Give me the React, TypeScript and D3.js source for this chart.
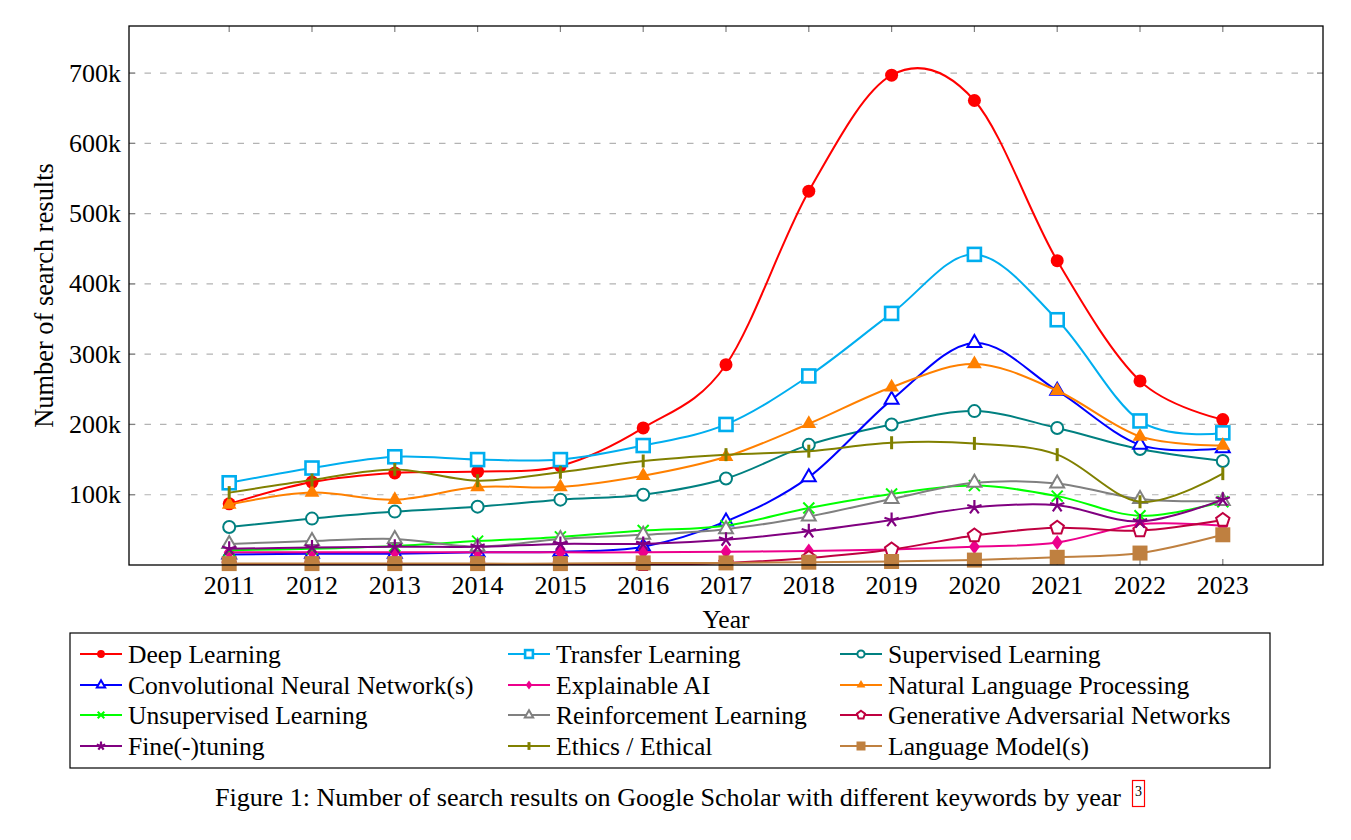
import React from 'react';
import * as d3 from 'd3';

const years = [2011, 2012, 2013, 2014, 2015, 2016, 2017, 2018, 2019, 2020, 2021, 2022, 2023];

const deepLearning = [87, 118, 131, 133, 141, 195, 285, 532, 697, 661, 433, 262, 207];
const transferLearning = [117, 138, 154, 150, 150, 170, 200, 269, 358, 442, 349, 205, 188];
const supervisedLearning = [54, 66, 76, 83, 93, 100, 123, 171, 200, 219, 195, 165, 148];
const cnn = [15, 16, 16, 18, 19, 26, 62, 125, 235, 316, 248, 171, 166];
const explainableAI = [18, 18, 18, 18, 18, 18, 19, 20, 22, 26, 32, 58, 56];
const nlp = [86, 103, 93, 111, 111, 127, 154, 201, 253, 286, 248, 183, 170];
const unsupervisedLearning = [21, 23, 27, 34, 40, 49, 56, 81, 101, 113, 98, 70, 90];
const reinforcementLearning = [30, 34, 37, 26, 37, 43, 51, 69, 94, 117, 116, 94, 91];
const gan = [1, 1, 1, 1, 1, 1, 3, 10, 22, 42, 53, 49, 64];
const fineTuning = [23, 25, 26, 26, 30, 30, 36, 48, 64, 82, 85, 62, 93];
const ethics = [103, 121, 136, 120, 132, 148, 157, 162, 174, 173, 157, 90, 130];
const languageModel = [2, 2, 2, 2, 2, 3, 3, 4, 5, 7, 11, 17, 43];

const seriesNames = [
  'Deep Learning', 'Transfer Learning', 'Supervised Learning',
  'Convolutional Neural Network(s)', 'Explainable AI', 'Natural Language Processing',
  'Unsupervised Learning', 'Reinforcement Learning', 'Generative Adversarial Networks',
  'Fine(-)tuning', 'Ethics / Ethical', 'Language Model(s)',
];
const seriesValues = [
  deepLearning, transferLearning, supervisedLearning,
  cnn, explainableAI, nlp,
  unsupervisedLearning, reinforcementLearning, gan,
  fineTuning, ethics, languageModel,
];
const yTicks = [100, 200, 300, 400, 500, 600, 700];

type MarkKind = 'circleF' | 'squareO' | 'circleO' | 'triO' | 'diamondF' | 'triF' | 'x' | 'pentO' | 'star' | 'bar' | 'squareF';
const styles: { color: string; mark: MarkKind }[] = [
  { color: '#ff0000', mark: 'circleF' },
  { color: '#00aeef', mark: 'squareO' },
  { color: '#008080', mark: 'circleO' },
  { color: '#0000ff', mark: 'triO' },
  { color: '#ec008c', mark: 'diamondF' },
  { color: '#ff8000', mark: 'triF' },
  { color: '#00ff00', mark: 'x' },
  { color: '#808080', mark: 'triO' },
  { color: '#bf0040', mark: 'pentO' },
  { color: '#800080', mark: 'star' },
  { color: '#808000', mark: 'bar' },
  { color: '#bf8040', mark: 'squareF' },
];

const FONT = '"Liberation Serif", "Times New Roman", serif';

function polyPts(n: number, r: number, rot = -Math.PI / 2) {
  const pts: string[] = [];
  for (let i = 0; i < n; i++) {
    const a = rot + (i * 2 * Math.PI) / n;
    pts.push(`${(r * Math.cos(a)).toFixed(2)},${(r * Math.sin(a)).toFixed(2)}`);
  }
  return pts.join(' ');
}

function Marker({ kind, color, x, y, k }: { kind: MarkKind; color: string; x: number; y: number; k: number }) {
  const t = `translate(${x},${y})`;
  switch (kind) {
    case 'circleF':
      return <circle cx={x} cy={y} r={6.5 * k} fill={color} />;
    case 'circleO':
      return <circle cx={x} cy={y} r={6 * k} fill="white" stroke={color} strokeWidth={2} />;
    case 'squareO':
      return <rect x={x - 6.5 * k} y={y - 6.5 * k} width={13 * k} height={13 * k} fill="white" stroke={color} strokeWidth={2.6} />;
    case 'squareF':
      return <rect x={x - 7.5 * k} y={y - 7.5 * k} width={15 * k} height={15 * k} fill={color} />;
    case 'triO':
      return <polygon transform={t} points={polyPts(3, 8 * k)} fill="white" stroke={color} strokeWidth={2} />;
    case 'triF':
      return <polygon transform={t} points={polyPts(3, 8.5 * k)} fill={color} />;
    case 'diamondF':
      return <polygon transform={t} points={`0,${-7.5 * k} ${5.5 * k},0 0,${7.5 * k} ${-5.5 * k},0`} fill={color} />;
    case 'pentO':
      return <polygon transform={t} points={polyPts(5, 7 * k)} fill="white" stroke={color} strokeWidth={2} />;
    case 'x': {
      const s = 5.5 * k;
      return <path transform={t} d={`M${-s},${-s}L${s},${s}M${-s},${s}L${s},${-s}`} stroke={color} strokeWidth={2} />;
    }
    case 'star': {
      const r = 7.5 * k;
      let d = '';
      for (let i = 0; i < 5; i++) {
        const a = -Math.PI / 2 + (i * 2 * Math.PI) / 5;
        d += `M0,0L${(r * Math.cos(a)).toFixed(2)},${(r * Math.sin(a)).toFixed(2)}`;
      }
      return <path transform={t} d={d} stroke={color} strokeWidth={2.2} />;
    }
    case 'bar':
      return <path transform={t} d={`M0,${-6.5 * k}L0,${6.5 * k}`} stroke={color} strokeWidth={3} />;
  }
  return null;
}

export default function App() {
  const W = 1351, H = 840;
  const left = 129, right = 1323, top = 26, bottom = 565;
  const x = d3.scaleLinear().domain([2009.79, 2024.21]).range([left, right]);
  const y = d3.scaleLinear().domain([0, 767]).range([bottom, top]);
  const line = d3.line<number>()
    .x((_, i) => x(years[i]))
    .y((v) => y(v))
    .curve(d3.curveCardinal.tension(0));

  const legendCols = [80, 508, 840];
  const legendRows = [654, 685, 715, 746];

  return (
    <svg width={W} height={H} style={{ position: 'absolute', left: 0, top: 0, background: 'white' }} fontFamily={FONT}>
      <defs>
        <clipPath id="plotclip">
          <rect x={left} y={top} width={right - left} height={bottom - top} />
        </clipPath>
      </defs>
      <rect x={0} y={0} width={W} height={H} fill="white" />
      {/* grid */}
      {yTicks.map((t) => (
        <line key={'g' + t} x1={left} x2={right} y1={y(t)} y2={y(t)} stroke="#b3b3b3" strokeWidth={1.2} strokeDasharray="6.5 9" />
      ))}
      {/* ticks */}
      {yTicks.map((t) => (
        <g key={'yt' + t}>
          <line x1={left} x2={left + 6} y1={y(t)} y2={y(t)} stroke="#808080" strokeWidth={1.2} />
          <line x1={right - 6} x2={right} y1={y(t)} y2={y(t)} stroke="#808080" strokeWidth={1.2} />
          <text x={left - 8} y={y(t)} textAnchor="end" dominantBaseline="central" fontSize={26}>{t}k</text>
        </g>
      ))}
      {years.map((yr) => (
        <g key={'xt' + yr}>
          <line x1={x(yr)} x2={x(yr)} y1={bottom} y2={bottom - 6} stroke="#808080" strokeWidth={1.2} />
          <line x1={x(yr)} x2={x(yr)} y1={top} y2={top + 6} stroke="#808080" strokeWidth={1.2} />
          <text x={x(yr)} y={585} textAnchor="middle" dominantBaseline="central" fontSize={26}>{yr}</text>
        </g>
      ))}
      {/* series */}
      {seriesValues.map((vals, si) => (
        <g key={'s' + si}>
          <path d={line(vals) || ''} fill="none" stroke={styles[si].color} strokeWidth={2} clipPath="url(#plotclip)" />
          {vals.map((v, i) => (
            <Marker key={i} kind={styles[si].mark} color={styles[si].color} x={x(years[i])} y={y(v)} k={1} />
          ))}
        </g>
      ))}
      {/* frame */}
      <rect x={left} y={top} width={right - left} height={bottom - top} fill="none" stroke="black" strokeWidth={1.3} />
      {/* axis labels */}
      <text x={(left + right) / 2} y={619} textAnchor="middle" dominantBaseline="central" fontSize={25.5}>Year</text>
      <text transform={`translate(44,${(top + bottom) / 2}) rotate(-90)`} textAnchor="middle" dominantBaseline="central" fontSize={26.4}>Number of search results</text>
      {/* legend */}
      <rect x={70} y={633} width={1200} height={135} fill="white" stroke="black" strokeWidth={1.2} />
      {seriesNames.map((name, i) => {
        const cx = legendCols[i % 3];
        const cy = legendRows[Math.floor(i / 3)];
        return (
          <g key={'l' + i}>
            <line x1={cx} x2={cx + 42} y1={cy} y2={cy} stroke={styles[i].color} strokeWidth={2} />
            <Marker kind={styles[i].mark} color={styles[i].color} x={cx + 21} y={cy} k={0.6} />
            <text x={cx + 48} y={cy} dominantBaseline="central" fontSize={25.6}>{name}</text>
          </g>
        );
      })}
      {/* caption */}
      <text x={215} y={797} dominantBaseline="central" fontSize={26.1}>Figure 1: Number of search results on Google Scholar with different keywords by year</text>
      <text x={1138.5} y={791} textAnchor="middle" dominantBaseline="central" fontSize={14}>3</text>
      <rect x={1132.5} y={780.5} width={12} height={26} fill="none" stroke="#ff0000" strokeWidth={1.2} />
    </svg>
  );
}
